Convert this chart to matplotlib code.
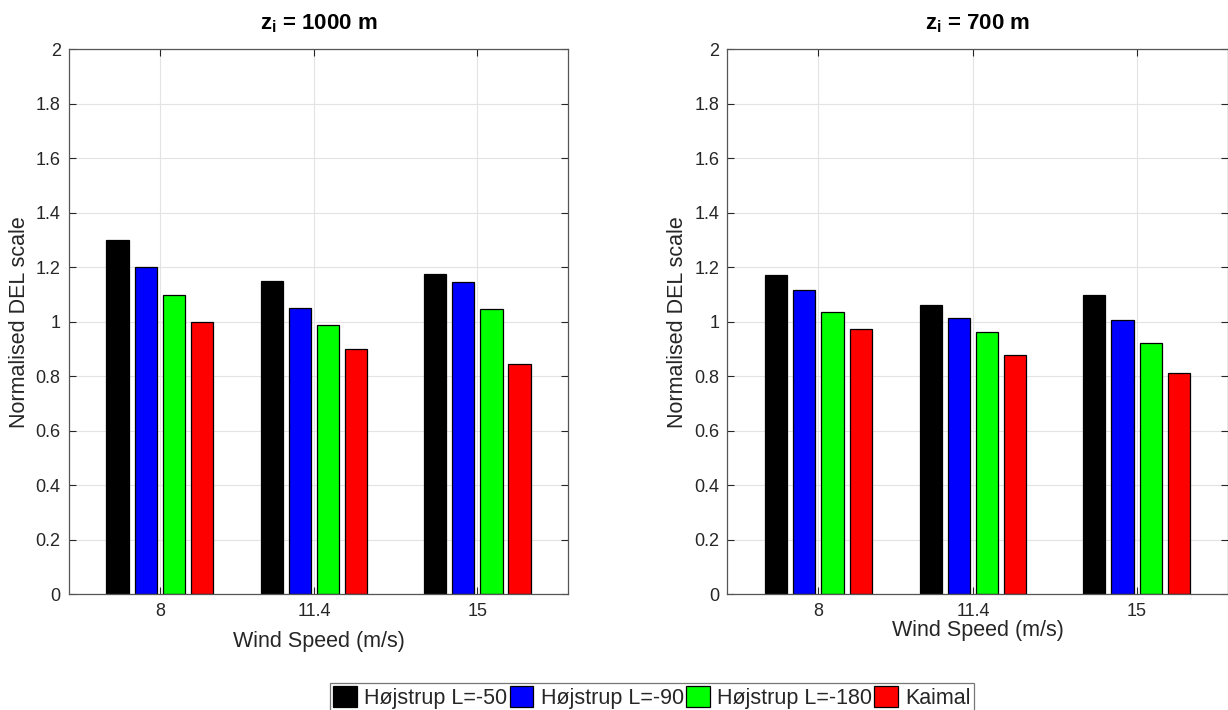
import numpy as np
import matplotlib
matplotlib.use("Agg")
import matplotlib.pyplot as plt

plt.rcParams['font.family'] = ['Liberation Sans', 'DejaVu Sans']
plt.rcParams['mathtext.fontset'] = 'custom'
plt.rcParams['mathtext.rm'] = 'Liberation Sans'
plt.rcParams['mathtext.bf'] = 'Liberation Sans:bold'

# data
wind_speed = [8, 11.4, 15]
series_names = ["Højstrup L=-50", "Højstrup L=-90", "Højstrup L=-180", "Kaimal"]
series_colors = ["#000000", "#0000ff", "#00ff00", "#ff0000"]
del_zi1000 = [
    [1.30, 1.15, 1.175],
    [1.20, 1.05, 1.145],
    [1.10, 0.987, 1.047],
    [1.00, 0.90, 0.845],
]
del_zi700 = [
    [1.17, 1.063, 1.10],
    [1.116, 1.013, 1.007],
    [1.035, 0.963, 0.921],
    [0.973, 0.878, 0.813],
]
titles = [r"$\mathbf{z}_{\mathbf{i}}$ = 1000 m", r"$\mathbf{z}_{\mathbf{i}}$ = 700 m"]

fig = plt.figure(figsize=(12.28, 7.1), dpi=100)
ax1 = fig.add_axes([0.0562, 0.163, 0.4064, 0.7676])
ax2 = fig.add_axes([0.5924, 0.163, 0.4072, 0.7676])

offsets = [-0.93, -0.31, 0.31, 0.93]
bar_w = 0.49
txt = "#262626"

for ax, data, title, lp in [(ax1, del_zi1000, titles[0], 8), (ax2, del_zi700, titles[1], 0)]:
    ax.set_axisbelow(True)
    ax.grid(True, color="#e3e3e3", linewidth=0.8)
    for k in range(4):
        x = np.array(wind_speed) + offsets[k]
        ax.bar(x, data[k], width=bar_w, color=series_colors[k],
               edgecolor="#000000", linewidth=0.9, label=series_names[k])
    ax.set_xlim(6, 17)
    ax.set_ylim(0, 2)
    ax.set_xticks(wind_speed)
    ax.set_xticklabels(["8", "11.4", "15"])
    ax.set_yticks(np.arange(0, 2.01, 0.2))
    ax.set_yticklabels(["0", "0.2", "0.4", "0.6", "0.8", "1", "1.2", "1.4", "1.6", "1.8", "2"])
    ax.tick_params(direction="in", top=True, right=True, labelsize=13, colors=txt,
                   length=5, width=0.8, pad=6)
    for sp in ax.spines.values():
        sp.set_color("#555555")
        sp.set_linewidth(0.9)
    ax.set_xlabel("Wind Speed (m/s)", fontsize=15.5, color=txt, labelpad=lp)
    ax.set_ylabel("Normalised DEL scale", fontsize=15.5, color=txt, labelpad=4)
    ax.set_title(title, fontsize=16, fontweight="bold", color="#000000", pad=14)

handles, labels = ax1.get_legend_handles_labels()
leg = fig.legend(handles, labels, loc="lower center", bbox_to_anchor=(0.531, -0.003),
                 ncol=4, fontsize=15.5, frameon=True, fancybox=False,
                 handlelength=1.1, handleheight=1.1, handletextpad=0.35,
                 columnspacing=0.1, borderpad=0.15, borderaxespad=0.0)
leg.get_frame().set_edgecolor("#555555")
leg.get_frame().set_linewidth(0.9)
for t in leg.get_texts():
    t.set_color(txt)

fig.savefig("out.png", dpi=100)
